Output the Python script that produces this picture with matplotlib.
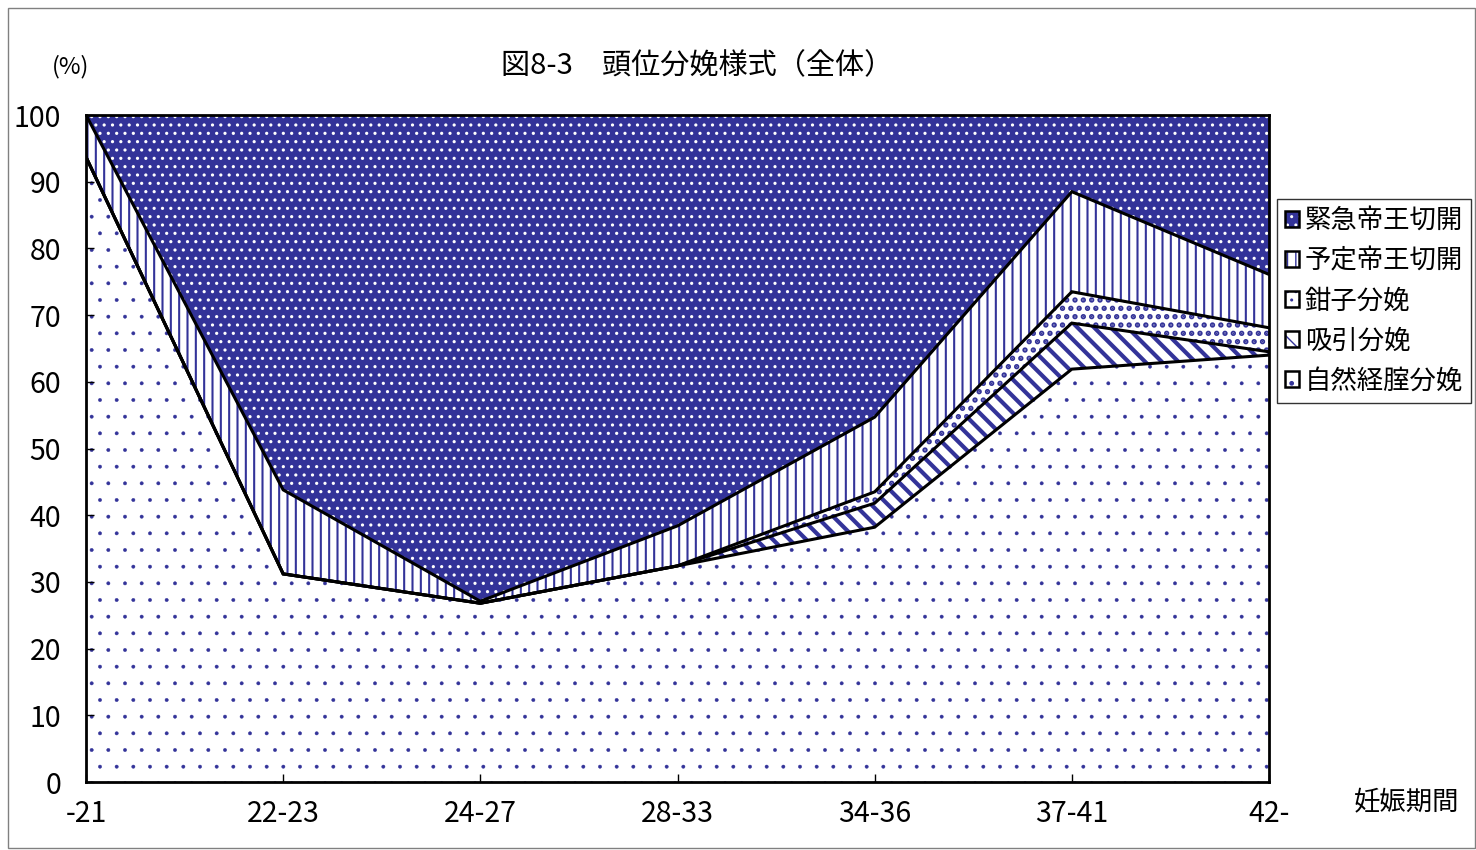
import numpy as np
import matplotlib
matplotlib.use("Agg")
import matplotlib.pyplot as plt
from matplotlib.patches import Patch, Rectangle
from matplotlib.legend_handler import HandlerTuple

plt.rcParams['font.family'] = ['Noto Sans CJK JP', 'DejaVu Sans']

# data (cumulative stack, %)
periods = ['-21', '22-23', '24-27', '28-33', '34-36', '37-41', '42-']
natural = [93.7, 31.2, 26.8, 32.4, 38.2, 61.9, 64.0]    # 自然経腟分娩
vacuum = [0.0, 0.0, 0.0, 0.0, 3.6, 6.9, 0.5]            # 吸引分娩
forceps = [0.0, 0.0, 0.0, 0.0, 1.7, 4.7, 3.6]           # 鉗子分娩
elective = [6.3, 12.6, 0.3, 6.0, 11.2, 15.0, 8.0]       # 予定帝王切開
emergency = [0.0, 56.2, 72.9, 61.6, 45.3, 11.5, 23.9]   # 緊急帝王切開

names = ['自然経腟分娩', '吸引分娩', '鉗子分娩', '予定帝王切開', '緊急帝王切開']
navy = '#333399'

styles = [
    dict(fc='white', hc=navy, hatch='.', lw=0.3),
    dict(fc='white', hc=navy, hatch='\\\\', lw=3.0),
    dict(fc='white', hc=navy, hatch='..', lw=2.6),
    dict(fc='white', hc=navy, hatch='||', lw=1.5),
    dict(fc=navy, hc='white', hatch='..', lw=1.1),
]

series = [natural, vacuum, forceps, elective, emergency]
x = np.arange(len(periods))

fig = plt.figure(figsize=(14.76, 8.5), dpi=100)
ax = fig.add_axes([86 / 1476, 68 / 850, 1183 / 1476, 667 / 850])

bottom = np.zeros(len(x))
tops = []
handles = []
for vals, st, name in zip(series, styles, names):
    top = bottom + np.array(vals)
    with plt.rc_context({'hatch.linewidth': st['lw'], 'hatch.color': st['hc']}):
        pc = ax.fill_between(x, bottom, top, facecolor=st['fc'], edgecolor=st['hc'],
                             hatch=st['hatch'], linewidth=0, zorder=1)
        if hasattr(pc, 'set_hatch_linewidth'):
            pc.set_hatch_linewidth(st['lw'])
        h1 = Patch(facecolor=st['fc'], edgecolor=st['hc'], hatch=st['hatch'], linewidth=0)
        if hasattr(h1, 'set_hatch_linewidth'):
            h1.set_hatch_linewidth(st['lw'] * 0.7)
    h2 = Patch(facecolor='none', edgecolor='black', linewidth=1.8)
    handles.append((h1, h2))
    tops.append(top)
    bottom = top

for top in tops[:-1]:
    ax.plot(x, top, color='black', lw=2.2, zorder=3, solid_joinstyle='miter')

ax.set_xlim(0, len(x) - 1)
ax.set_ylim(0, 100)
ax.set_yticks(np.arange(0, 101, 10))
ax.set_xticks(x)
ax.set_xticklabels(periods)
ax.tick_params(direction='in', length=6, width=1, labelsize=20.5)
ax.tick_params(axis='x', pad=12)
ax.tick_params(axis='y', pad=18)
for s in ax.spines.values():
    s.set_linewidth(2)
    s.set_zorder(4)

fig.text(697 / 1476, 1 - 66 / 850, '図8-3　頭位分娩様式（全体）', ha='center', va='center', fontsize=21)
fig.text(71 / 1476, 1 - 67 / 850, '(%)', ha='center', va='center', fontsize=17)
fig.text(1407 / 1476, 1 - 803 / 850, '妊娠期間', ha='center', va='center', fontsize=19)

leg = fig.legend(handles[::-1], names[::-1], handler_map={tuple: HandlerTuple(ndivide=1)},
                 loc='upper left', bbox_to_anchor=(1277 / 1476, 1 - 199 / 850),
                 fontsize=19, frameon=True, fancybox=False, edgecolor='black',
                 handlelength=0.55, handleheight=0.55, handletextpad=0.2,
                 borderpad=0.3, labelspacing=0.5, borderaxespad=0)
leg.get_frame().set_linewidth(1.0)

fig.patches.append(Rectangle((8 / 1476, 2 / 850), 1 - 9 / 1476, 1 - 10 / 850,
                             transform=fig.transFigure, fill=False,
                             edgecolor='#808080', linewidth=1))

fig.savefig('out.png', dpi=100)
